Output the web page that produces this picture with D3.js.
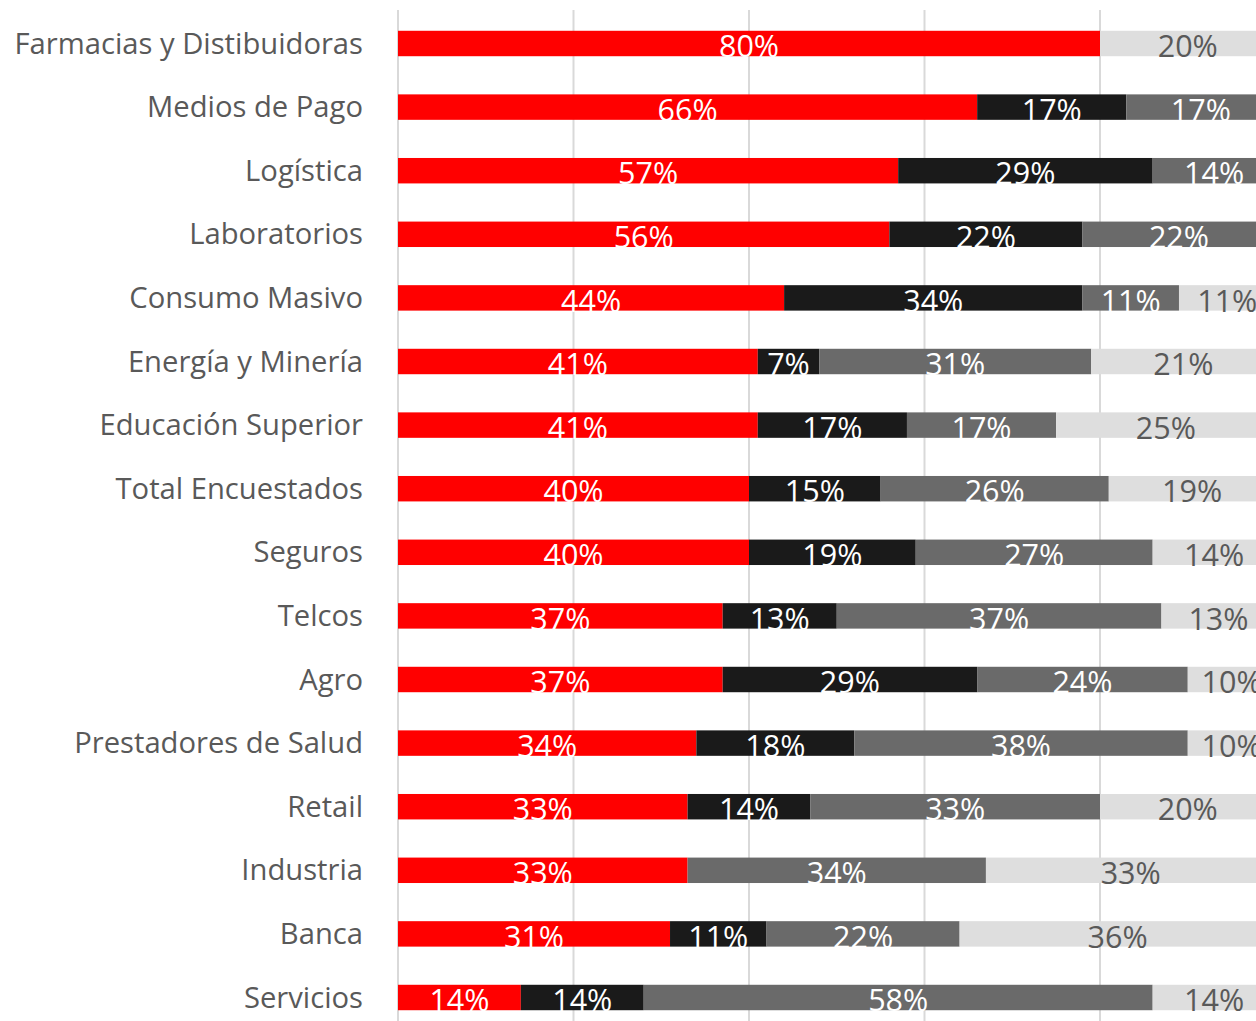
<!DOCTYPE html>
<html><head><meta charset="utf-8">
<script src="https://cdn.jsdelivr.net/npm/d3@7"></script>
<style>html,body{margin:0;padding:0;background:#fff;overflow:hidden}</style>
</head><body>
<svg id="c" width="1256" height="1021"></svg>
<script>
const categories = ["Farmacias y Distibuidoras","Medios de Pago","Logística","Laboratorios","Consumo Masivo","Energía y Minería","Educación Superior","Total Encuestados","Seguros","Telcos","Agro","Prestadores de Salud","Retail","Industria","Banca","Servicios"];
const seriesRed   = [80,66,57,56,44,41,41,40,40,37,37,34,33,33,31,14];
const seriesBlack = [0,17,29,22,34,7,17,15,19,13,29,18,14,0,11,14];
const seriesDark  = [0,17,14,22,11,31,17,26,27,37,24,38,33,34,22,58];
const seriesLight = [20,0,0,0,11,21,25,19,14,13,10,10,20,33,36,14];
const xTicks = [0,20,40,60,80,100];

const seriesDefs = [
  {vals: seriesRed, fill:"#ff0000", text:"#ffffff"},
  {vals: seriesBlack, fill:"#1a1a1a", text:"#ffffff"},
  {vals: seriesDark, fill:"#6a6a6a", text:"#ffffff"},
  {vals: seriesLight, fill:"#dedede", text:"#595959"}
];

const svg = d3.select("#c");
const x = d3.scaleLinear().domain([0,100]).range([398, 1275.5]);
const y = d3.scaleBand().domain(categories).range([11.7, 1029.3]).paddingInner(0.6).paddingOuter(0.3);

// gridlines
svg.append("g").selectAll("line").data(xTicks).join("line")
  .attr("x1", d=>x(d)).attr("x2", d=>x(d))
  .attr("y1", 10).attr("y2", 1021)
  .attr("stroke", "#d9d9d9").attr("stroke-width", 2);

// bars
const g = svg.append("g");
seriesDefs.forEach((s, si) => {
  categories.forEach((c, i) => {
    const v = s.vals[i];
    if (!v) return;
    let start = 0;
    for (let k = 0; k < si; k++) start += seriesDefs[k].vals[i];
    g.append("rect")
      .attr("x", x(start)).attr("y", y(c))
      .attr("width", x(start+v) - x(start)).attr("height", y.bandwidth())
      .attr("fill", s.fill);
  });
});
// value labels
const lg = svg.append("g");
seriesDefs.forEach((s, si) => {
  categories.forEach((c, i) => {
    const v = s.vals[i];
    if (!v) return;
    let start = 0;
    for (let k = 0; k < si; k++) start += seriesDefs[k].vals[i];
    lg.append("text")
      .attr("x", x(start + v/2)).attr("y", y(c) + y.bandwidth() + 1)
      .attr("text-anchor", "middle")
      .attr("font-family", "'Open Sans', sans-serif")
      .attr("font-size", 30.5)
      .attr("fill", s.text)
      .text(v + "%");
  });
});

// category labels
svg.append("g").selectAll("text").data(categories).join("text")
  .attr("x", 363).attr("y", d => y(d) + y.bandwidth()/2 + 10)
  .attr("text-anchor", "end")
  .attr("font-family", "'Open Sans', sans-serif")
  .attr("font-size", 29.2)
  .attr("fill", "#595959")
  .text(d => d);
</script>
</body></html>
